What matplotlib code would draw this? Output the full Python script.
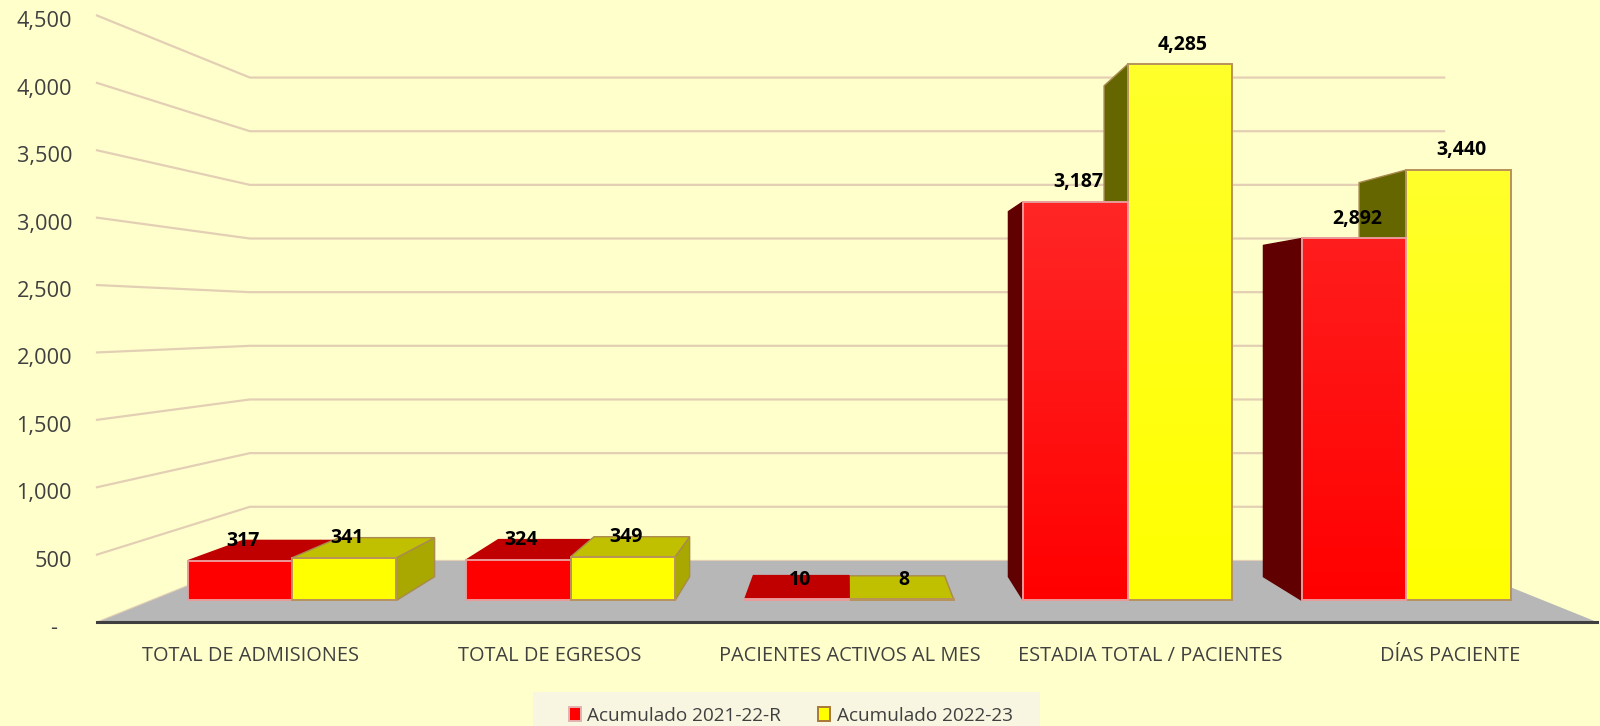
import matplotlib
matplotlib.use('Agg')
import matplotlib.pyplot as plt
import numpy as np
from matplotlib.colors import to_rgb
from matplotlib.patches import Polygon, Patch, Rectangle
from matplotlib.transforms import ScaledTranslation

plt.rcParams['font.family'] = ['Open Sans', 'DejaVu Sans']

# datos
categorias = ['TOTAL DE ADMISIONES', 'TOTAL DE EGRESOS', 'PACIENTES ACTIVOS AL MES',
              'ESTADIA TOTAL / PACIENTES', 'DÍAS PACIENTE']
acum_2122 = [317, 324, 10, 3187, 2892]
acum_2223 = [341, 349, 8, 4285, 3440]
etiquetas_serie = ['Acumulado 2021-22-R', 'Acumulado 2022-23']
y_ticks = [0, 500, 1000, 1500, 2000, 2500, 3000, 3500, 4000, 4500]
y_labels = ['-', '500', '1,000', '1,500', '2,000', '2,500', '3,000', '3,500', '4,000', '4,500']

# perspectiva de la caja 3D
vp_x, vp_v = 2.5, 2241
persp = 0.256
d_front, d_back = 0.30, 0.689
bar_start, bar_w = 0.133, 0.375

colores = [
    dict(front='#ff0000', top='#c00000', left='#600000', right='#a00000', edge='#eb9a9a', side_edge=None),
    dict(front='#ffff00', top='#c0c000', left='#666600', right='#a8a800', edge='#b8935a', side_edge='#a98a50'),
]


def pr(x, v, d):
    s = 1 / (1 + persp * d)
    return vp_x + (x - vp_x) * s, vp_v + (v - vp_v) * s


fig = plt.figure(figsize=(16, 7.26), dpi=100, facecolor='#ffffcc')
ax = fig.add_axes([97 / 1600, 1 - 622 / 726, 1500 / 1600, 606.5 / 726])
ax.set_facecolor('none')

# piso
ax.add_patch(Polygon([pr(0, 0, 0), pr(5, 0, 0), pr(5, 0, 1), pr(0, 0, 1)], fc='#b7b7b7', ec='none', zorder=1))

# lineas de division en pared izquierda y fondo
for v in y_ticks:
    p0, p1, p2 = pr(0, v, 0), pr(0, v, 1), pr(5, v, 1)
    lw = 0.8 if v == 0 else 1.6
    ax.plot([p0[0], p1[0], p2[0]], [p0[1], p1[1], p2[1]], color='#e3cfb4', lw=lw, zorder=2, clip_on=False)

# barras, de la mas lejana al centro a la mas cercana
barras = []
for i in range(len(categorias)):
    for j, val in enumerate([acum_2122[i], acum_2223[i]]):
        x0 = i + bar_start + j * bar_w
        barras.append((abs(x0 + bar_w / 2 - vp_x), i, j, x0, x0 + bar_w, val))
barras.sort(key=lambda b: (b[1], -b[0]))

for dist, i, j, x0, x1, val in barras:
    c = colores[j]
    z = 3 + i + 0.1 * (3 - dist)
    if x0 > vp_x:
        ax.add_patch(Polygon([pr(x0, 0, d_front), pr(x0, val, d_front), pr(x0, val, d_back), pr(x0, 0, d_back)],
                             fc=c['left'], ec=c['side_edge'] or c['left'], lw=1.0, zorder=z))
    if x1 < vp_x:
        ax.add_patch(Polygon([pr(x1, 0, d_front), pr(x1, val, d_front), pr(x1, val, d_back), pr(x1, 0, d_back)],
                             fc=c['right'], ec=c['side_edge'] or c['right'], lw=1.0, zorder=z))
    if val < vp_v:
        ax.add_patch(Polygon([pr(x0, val, d_front), pr(x1, val, d_front), pr(x1, val, d_back), pr(x0, val, d_back)],
                             fc=c['top'], ec=c['side_edge'] or c['top'], lw=1.0, zorder=z))
    front = [pr(x0, 0, d_front), pr(x1, 0, d_front), pr(x1, val, d_front), pr(x0, val, d_front)]
    cara = Polygon(front, fc=c['front'], ec='none', zorder=z)
    ax.add_patch(cara)
    # las barras altas se aclaran hacia arriba
    aclara = min((val / 3187) ** 3 * 0.15, 0.17)
    base = np.array(to_rgb(c['front']))
    t = np.linspace(aclara, 0, 64)[:, None, None]
    grad = base + (1 - base) * t
    im = ax.imshow(grad, extent=(front[0][0], front[1][0], front[0][1], front[2][1]), origin='upper',
                   aspect='auto', zorder=z, interpolation='bilinear')
    im.set_clip_path(cara)
    ax.add_patch(Polygon(front, fc='none', ec=c['edge'], lw=1.4, zorder=z))

# etiquetas de datos
for dist, i, j, x0, x1, val in barras:
    ax.annotate(f'{val:,}', pr((x0 + x1) / 2, val, d_front), xytext=(2, 14.1), textcoords='offset points',
                ha='center', va='center', fontsize=14, fontweight='bold', color='black', zorder=20)

# ejes
ax.set_xlim(0, 5)
ax.set_ylim(0, 4500)
for s in ['top', 'left', 'right']:
    ax.spines[s].set_visible(False)
ax.spines['bottom'].set_color('#3f3f3f')
ax.spines['bottom'].set_linewidth(2.2)
ax.spines['bottom'].set_zorder(15)

ax.set_yticks(y_ticks)
ax.set_yticklabels(y_labels, fontsize=15.7, color='#404040')
ax.tick_params(axis='y', length=0, pad=18)
for t, lab in zip(y_ticks, ax.get_yticklabels()):
    dx = -11 / 72 if t == 0 else 0
    lab.set_transform(lab.get_transform() + ScaledTranslation(dx, -4 / 100, fig.dpi_scale_trans))

ax.set_xticks([i + 0.5 for i in range(len(categorias))])
ax.set_xticklabels(categorias, fontsize=14.4, color='#404040')
ax.tick_params(axis='x', length=0, pad=17)
for lab in ax.get_xticklabels():
    lab.set_transform(lab.get_transform() + ScaledTranslation(3 / 100, 0, fig.dpi_scale_trans))

# leyenda
fig.add_artist(Rectangle((532.5 / 1600, 0), 507.5 / 1600, 34.3 / 726, transform=fig.transFigure,
                         fc='#f8f6e0', ec='none'))
handles = [Patch(fc=colores[0]['front'], ec='#e3b3b0', lw=1.4, label=etiquetas_serie[0]),
           Patch(fc=colores[1]['front'], ec='#a87838', lw=1.4, label=etiquetas_serie[1])]
fig.legend(handles=handles, loc='lower left', bbox_to_anchor=(569 / 1600, 0.002), ncol=2, frameon=False,
           fontsize=13.7, labelcolor='#404040', handlelength=0.63, handleheight=0.8, handletextpad=0.34,
           columnspacing=1.95, borderpad=0, borderaxespad=0)

plt.savefig('out.png', dpi=100, facecolor=fig.get_facecolor())
